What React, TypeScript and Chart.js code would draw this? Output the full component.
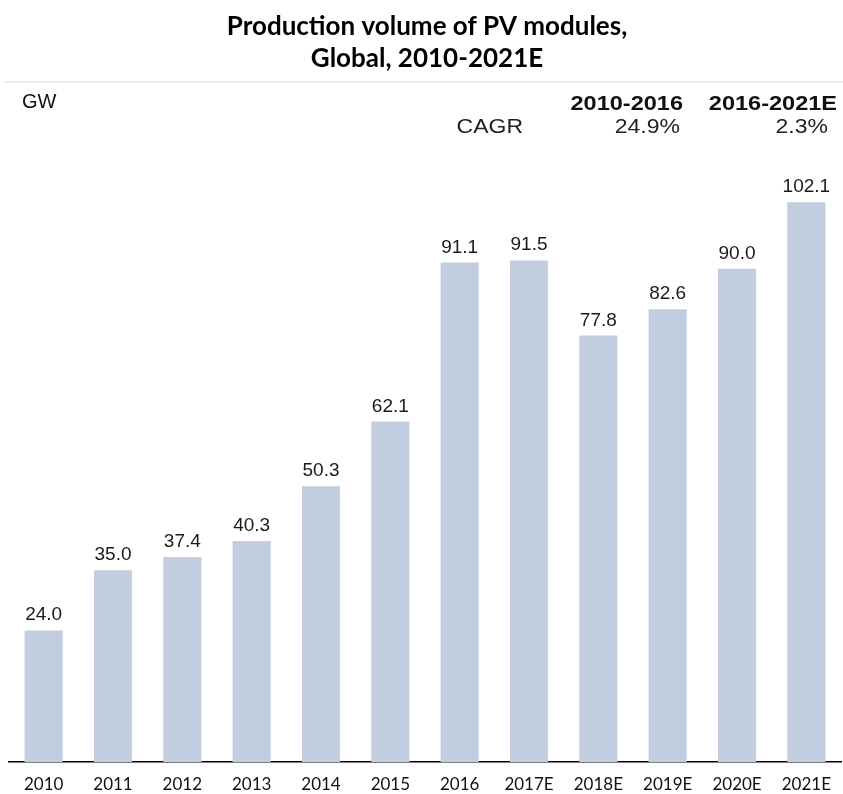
import React, { useEffect, useRef } from 'react';
import { Chart, registerables } from 'chart.js';

Chart.register(...registerables);

const categories = ['2010', '2011', '2012', '2013', '2014', '2015', '2016', '2017E', '2018E', '2019E', '2020E', '2021E'];
const volumes = [24.0, 35.0, 37.4, 40.3, 50.3, 62.1, 91.1, 91.5, 77.8, 82.6, 90.0, 102.1];
const titleLines = ['Production volume of PV modules,', 'Global, 2010-2021E'];
const unitLabel = 'GW';
const cagrLabel = 'CAGR';
const cagrPeriods = ['2010-2016', '2016-2021E'];
const cagrValues = ['24.9%', '2.3%'];

const W = 843;
const H = 794;

function drawText(
  ctx: CanvasRenderingContext2D,
  s: string,
  x: number,
  y: number,
  font: string,
  align: CanvasTextAlign,
  color: string,
  sx = 1
) {
  ctx.save();
  ctx.font = font;
  ctx.fillStyle = color;
  ctx.textAlign = align;
  ctx.textBaseline = 'alphabetic';
  ctx.translate(x, y);
  ctx.scale(sx, 1);
  ctx.fillText(s, 0, 0);
  ctx.restore();
}

const decorPlugin = {
  id: 'decor',
  beforeDraw(chart: any) {
    const ctx = chart.ctx as CanvasRenderingContext2D;
    ctx.save();
    ctx.fillStyle = '#ffffff';
    ctx.fillRect(0, 0, chart.width, chart.height);
    ctx.restore();
  },
  afterDraw(chart: any) {
    const ctx = chart.ctx as CanvasRenderingContext2D;
    // Title
    drawText(ctx, titleLines[0], 427, 35, 'bold 26px Lato, sans-serif', 'center', '#000000');
    drawText(ctx, titleLines[1], 427, 67, 'bold 26px Lato, sans-serif', 'center', '#000000');
    // separator
    ctx.save();
    ctx.strokeStyle = '#e8e8e3';
    ctx.lineWidth = 1.5;
    ctx.beginPath();
    ctx.moveTo(5, 82);
    ctx.lineTo(843, 82);
    ctx.stroke();
    ctx.restore();
    // header
    drawText(ctx, unitLabel, 22, 108, '20px "Liberation Sans", Arial, sans-serif', 'left', '#111111');
    drawText(ctx, cagrPeriods[0], 683, 110, 'bold 21px "Liberation Sans", Arial, sans-serif', 'right', '#111111', 1.12);
    drawText(ctx, cagrPeriods[1], 837, 110, 'bold 21px "Liberation Sans", Arial, sans-serif', 'right', '#111111', 1.12);
    drawText(ctx, cagrLabel, 523, 133, '20px "Liberation Sans", Arial, sans-serif', 'right', '#222222', 1.15);
    drawText(ctx, cagrValues[0], 680, 133, '20px "Liberation Sans", Arial, sans-serif', 'right', '#222222', 1.15);
    drawText(ctx, cagrValues[1], 828, 133, '20px "Liberation Sans", Arial, sans-serif', 'right', '#222222', 1.15);
    // data labels
    const meta = chart.getDatasetMeta(0);
    meta.data.forEach((bar: any, i: number) => {
      drawText(ctx, volumes[i].toFixed(1), bar.x, bar.y - 10, '19px "Liberation Sans", Arial, sans-serif', 'center', '#1a1a1a');
    });
  },
};

export default function App() {
  const ref = useRef<HTMLCanvasElement | null>(null);
  useEffect(() => {
    if (!ref.current) return;
    const chart = new Chart(ref.current, {
      type: 'bar',
      data: {
        labels: categories,
        datasets: [
          {
            data: volumes,
            backgroundColor: '#c2cddf',
            borderWidth: 0,
            barPercentage: 0.55,
            categoryPercentage: 1,
          },
        ],
      },
      options: {
        responsive: false,
        animation: false,
        devicePixelRatio: 1,
        layout: { padding: { top: 159, left: 9, right: 0, bottom: 0 } },
        plugins: {
          legend: { display: false },
          title: { display: false },
          tooltip: { enabled: false },
        },
        scales: {
          x: {
            grid: { display: false, drawTicks: false },
            border: { display: true, color: '#000000', width: 1.5 },
            ticks: {
              color: '#111111',
              font: { family: 'Lato, sans-serif', size: 17 },
              padding: 12,
              maxRotation: 0,
              autoSkip: false,
            },
            afterFit: (scale: any) => {
              scale.height = 32;
            },
          },
          y: {
            display: false,
            min: 0,
            max: 110,
          },
        },
      },
      plugins: [decorPlugin],
    });
    return () => chart.destroy();
  }, []);
  return (
    <div style={{ position: 'absolute', left: 0, top: 0, width: W, height: H, background: '#fff' }}>
      <canvas ref={ref} width={W} height={H} style={{ display: 'block', width: W, height: H }} />
    </div>
  );
}
